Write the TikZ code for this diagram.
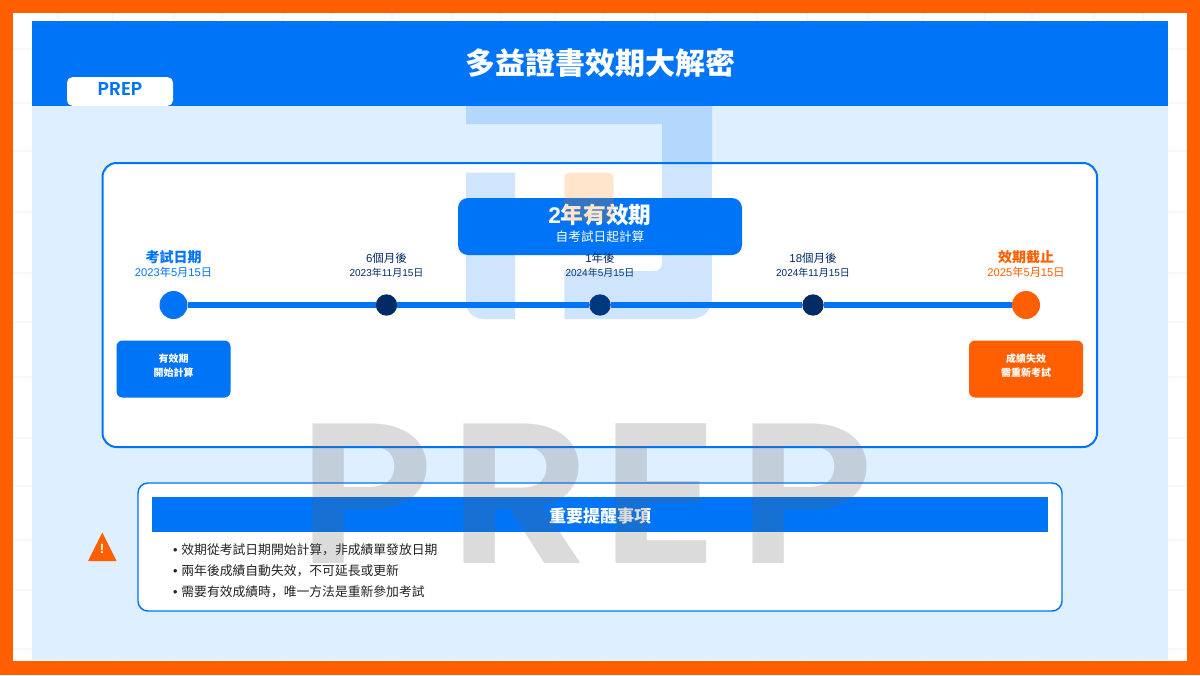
\documentclass[tikz,border=0pt]{standalone}
\usepackage{fontspec}
\setmainfont{Noto Sans CJK TC}
\newfontfamily\latin{Liberation Sans}
\newfontfamily\scfont{Noto Sans CJK SC}
\newfontfamily\tagfont{Poppins SemiBold}
\newfontfamily\markfont[FakeStretch=1.12]{Poppins SemiBold}
\definecolor{prepblue}{HTML}{0074F6}
\definecolor{preporange}{HTML}{FF5F00}
\definecolor{prepnavy}{HTML}{002B65}
\definecolor{prepsky}{HTML}{DEEFFF}
\definecolor{prepgrid}{HTML}{F3F9FF}
\definecolor{prepink}{HTML}{222222}
\newcommand{\ymd}[3]{{\latin #1}年{\latin #2}月{\latin #3}日}
\newcommand{\fs}[1]{\fontsize{#1}{#1}\selectfont}
\newcommand{\lifted}[1]{\raisebox{2.25pt}[0.88em][0.12em]{#1}}
\newcommand{\dotmark}{{\latin •}\hspace{0.8pt}}
\tikzset{
  x=0.75pt,y=-0.75pt,
  gridline/.style={prepgrid,line width=1.5pt},
  panelcard/.style={draw=prepblue,fill=white,rounded corners=10.5pt,line width=1.5pt},
  notecard/.style={draw=prepblue,fill=white,rounded corners=7.5pt,line width=1.1pt},
  milestone/.style={circle,draw=none,inner sep=0pt,outer sep=0pt,minimum size=21pt},
  waypoint/.style={circle,draw=none,fill=prepnavy,inner sep=0pt,outer sep=0pt,minimum size=16pt},
  track/.style={prepblue,line width=4.2pt},
  txt/.style={inner sep=0pt,outer sep=0pt,anchor=center},
  headlabel/.style={txt,font=\fs{10.5}\bfseries},
  headdate/.style={txt,font=\fs{8.4}},
  waylabel/.style={txt,text=prepnavy,font=\fs{8.6}},
  waydate/.style={txt,text=prepnavy,font=\fs{7.5}},
  infobox/.style={draw=none,rounded corners=4.5pt,text=white,align=center,inner sep=0pt,
    minimum width=85.5pt,minimum height=42.75pt,font=\fontsize{7.5}{10.5}\selectfont\bfseries},
  bullet line/.style={txt,anchor=west,text=prepink,font=\fs{9.6}},
  blueghost/.style={fill=prepblue,fill opacity=.19,draw=none},
  orangeghost/.style={fill=orange,fill opacity=.2,draw=none},
}
\begin{document}
\begin{tikzpicture}
\useasboundingbox (0,0) rectangle (1200,675);
% frame
\fill[preporange] (0,0) rectangle (1200,675);
\fill[white] (13.3,13.3) rectangle (1186.7,661);
% faint grid
\foreach \gy in {48.7,103,151,212,273,322,377,438,486,540,590,649}
  \draw[gridline] (13.3,\gy) -- (1186.7,\gy);
\foreach \gx in {58,113,174,222,283,331,392,452,501,555,603,655,707,757,807,868,923,985,1032,1094,1143}
  \draw[gridline] (\gx,13.3) -- (\gx,661);
% panel and header
\fill[prepsky] (32,106) rectangle (1168,660);
\fill[prepblue] (32,21) rectangle (1168,106);
\node[txt,text=white,font=\fs{22.5}\bfseries] (title) at (600,63) {多益證書效期大解密};
\node[fill=white,rounded corners=4pt,inner sep=0pt,minimum width=79.5pt,minimum height=21.5pt] (tag) at (120,91.5) {};
\node[txt,text=prepblue,font=\fs{14}\tagfont] (tagtext) at (120,89) {PREP};
% main card
\draw[panelcard] (102.5,163) rectangle (1097,447);
\node[fill=prepblue,rounded corners=7.5pt,inner sep=0pt,minimum width=213pt,minimum height=42.75pt] (pill) at (600,226.5) {};
\node[txt,text=white,font=\fs{17}\bfseries] (pilltitle) at (600,215) {{\latin 2}年有效期};
\node[txt,text=white,font=\fs{9.5}] (pillsub) at (600,237) {自考試日起計算};
% timeline
\node[milestone,fill=prepblue] (d0) at (173.5,305) {};
\node[waypoint] (d1) at (386.5,305) {};
\node[waypoint] (d2) at (600,305) {};
\node[waypoint] (d3) at (813,305) {};
\node[milestone,fill=preporange] (d4) at (1026,305) {};
\draw[track] (d0) -- (d1);
\draw[track] (d1) -- (d2);
\draw[track] (d2) -- (d3);
\draw[track] (d3) -- (d4);
\node[headlabel,text=prepblue] (l0) at (173.5,257) {考試日期};
\node[headdate,text=prepblue] (s0) at (173.5,272) {\ymd{2023}{5}{15}};
\node[waylabel] (l1) at (386.5,258) {{\latin 6}個月後};
\node[waydate] (s1) at (386.5,272.5) {\ymd{2023}{11}{15}};
\node[waylabel] (l2) at (600,258) {{\latin 1}年後};
\node[waydate] (s2) at (600,272.5) {\ymd{2024}{5}{15}};
\node[waylabel] (l3) at (813,258) {{\latin 18}個月後};
\node[waydate] (s3) at (813,272.5) {\ymd{2024}{11}{15}};
\node[headlabel,text=preporange] (l4) at (1026,257) {效期截止};
\node[headdate,text=preporange] (s4) at (1026,272) {\ymd{2025}{5}{15}};
\node[infobox,fill=prepblue] (startbox) at (173.5,369) {\lifted{有效期}\\\lifted{開始計算}};
\node[infobox,fill=preporange] (endbox) at (1026,369) {\lifted{成績失效}\\\lifted{需重新考試}};
% notice
\draw[notecard] (138,483) rectangle (1062,611);
\node[fill=prepblue,inner sep=0pt,minimum width=672pt,minimum height=26.25pt] (noticehead) at (600,514.5) {};
\node[txt,text=white,font=\fs{12.75}\bfseries] (noticetitle) at (600,516) {重要提醒事項};
\node[bullet line] (b1) at (173,549.5) {\dotmark{} 效期從考試日期開始計算{\scfont ，}非成績單發放日期};
\node[bullet line] (b2) at (173,570.5) {\dotmark{} 兩年後成績自動失效{\scfont ，}不可延長或更新};
\node[bullet line] (b3) at (173,591.5) {\dotmark{} 需要有效成績時{\scfont ，}唯一方法是重新參加考試};
% warning
\fill[preporange] (102.3,532.5) -- (116.5,561) -- (88,561) -- cycle;
\node[txt,text=white,font=\fs{10}\latin\bfseries] (warn) at (102,549) {!};
% watermark
\fill[blueghost] (466,106) -- (712,106) -- (712,297)
  .. controls (712,311) and (703,319) .. (690,319) -- (564.3,319) -- (564.3,271) -- (654,271)
  .. controls (659,271) and (662,268) .. (662,263) -- (662,124) -- (466,124) -- cycle;
\fill[blueghost] (466,172.7) -- (515,172.7) -- (515,319) -- (484,319)
  .. controls (473,319) and (466,312) .. (466,301) -- cycle;
\fill[orangeghost,rounded corners=3.5pt] (564.3,172.7) rectangle (613.7,221.7);
\node[inner sep=0pt,outer sep=0pt,anchor=base west,text=black!60,text opacity=.23,font=\fs{150}\markfont] (ghost) at (297,563) {P\kern 11.5pt R\kern 6.5pt E\kern 13pt P};
\end{tikzpicture}
\end{document}
